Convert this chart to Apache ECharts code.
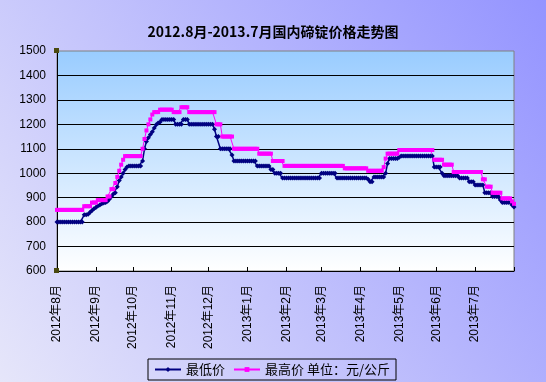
<!DOCTYPE html>
<html><head><meta charset="utf-8">
<script src="https://cdn.jsdelivr.net/npm/echarts@6/dist/echarts.min.js"></script>
<style>html,body{margin:0;padding:0;}#c{width:546px;height:382px;}</style>
</head><body><div id="c"></div>
<script>
const titleText = '2012.8月-2013.7月国内碲锭价格走势图';
const monthLabels = ['2012年8月','2012年9月','2012年10月','2012年11月','2012年12月','2013年1月','2013年2月','2013年3月','2013年4月','2013年5月','2013年6月','2013年7月'];
const monthCounts = [20,19,20,19,20,20,18,20,20,19,20,21];
const seriesNames = ['最低价','最高价'];
const unitNote = '单位：元/公斤';
const yMin = 600, yMax = 1500, yStep = 100;

const lowPrices = [
800,800,800,800,800,800,800,800,800,800,
800,800,800,800,830,830,832,840,848,855,
860,866,870,875,878,880,885,895,905,915,
920,945,970,985,1000,1015,1025,1030,1030,1030,
1030,1030,1030,1030,1050,1100,1130,1145,1158,1170,
1185,1198,1205,1210,1220,1220,1220,1220,1220,1220,
1220,1200,1200,1200,1200,1220,1220,1220,1200,1200,
1200,1200,1200,1200,1200,1200,1200,1200,1200,1200,
1200,1180,1150,1150,1100,1100,1100,1100,1100,1100,
1075,1050,1050,1050,1050,1050,1050,1050,1050,1050,
1050,1050,1050,1030,1030,1030,1030,1030,1030,1030,
1015,1015,1000,1000,1000,1000,980,980,980,980,
980,980,980,980,980,980,980,980,980,980,
980,980,980,980,980,980,1000,1000,1000,1000,
1000,1000,1000,1000,980,980,980,980,980,980,
980,980,980,980,980,980,980,980,980,980,
975,965,965,985,985,985,985,985,985,1000,
1040,1060,1060,1060,1060,1060,1065,1070,1070,1070,
1070,1070,1070,1070,1070,1070,1070,1070,1070,1070,
1070,1070,1070,1070,1025,1025,1025,1025,1000,990,
990,990,990,990,990,990,990,980,980,980,
980,980,965,965,965,952,952,952,952,952,
920,920,920,920,905,905,905,905,890,880,
880,880,880,880,870,862
];
const highPrices = [
850,850,850,850,850,850,850,850,850,850,
850,850,850,850,865,865,865,865,880,880,
880,890,890,890,890,890,905,905,935,935,
960,985,1010,1035,1055,1070,1070,1070,1070,1070,
1070,1070,1070,1070,1100,1140,1175,1200,1220,1240,
1250,1250,1250,1260,1260,1260,1260,1260,1260,1260,
1250,1250,1250,1250,1270,1270,1270,1270,1250,1250,
1250,1250,1250,1250,1250,1250,1250,1250,1250,1250,
1250,1250,1200,1200,1200,1150,1150,1150,1150,1150,
1150,1100,1100,1100,1100,1100,1100,1100,1100,1100,
1100,1100,1100,1100,1080,1080,1080,1080,1080,1080,
1080,1050,1050,1050,1050,1050,1050,1030,1030,1030,
1030,1030,1030,1030,1030,1030,1030,1030,1030,1030,
1030,1030,1030,1030,1030,1030,1030,1030,1030,1030,
1030,1030,1030,1030,1030,1030,1030,1030,1020,1020,
1020,1020,1020,1020,1020,1020,1020,1020,1020,1020,
1010,1010,1010,1010,1010,1010,1010,1010,1025,1060,
1080,1080,1080,1080,1080,1080,1095,1095,1095,1095,
1095,1095,1095,1095,1095,1095,1095,1095,1095,1095,
1095,1095,1095,1095,1055,1055,1055,1055,1055,1035,
1035,1035,1035,1035,1005,1005,1005,1005,1005,1005,
1005,1005,1005,1005,1005,1005,1005,1005,1005,975,
975,945,945,945,920,920,920,920,920,897,
897,897,897,897,885,875
];

const categories = [];
const monthStart = new Set();
monthLabels.forEach((m, k) => {
  for (let j = 0; j < monthCounts[k]; j++) {
    if (j === 0) monthStart.add(categories.length);
    categories.push(m + '#' + j);
  }
});
const lastIdx = categories.length - 1;

const cjk = '"Noto Sans CJK SC"';
const latin = '"Liberation Sans", "Noto Sans CJK SC"';

const chart = echarts.init(document.getElementById('c'), null, {renderer: 'canvas'});
chart.setOption({
  animation: false,
  backgroundColor: new echarts.graphic.LinearGradient(1, 0, 0, 1, [
    {offset: 0, color: '#9494FF'},
    {offset: 1, color: '#E6E6FA'}
  ]),
  title: {
    text: titleText, left: 'center', top: 20,
    textStyle: {fontSize: 14, fontWeight: 'bold', color: '#000', fontFamily: cjk}
  },
  grid: {
    left: 57, right: 32, top: 51, bottom: 111,
    show: true, borderColor: '#808080', borderWidth: 1,
    backgroundColor: new echarts.graphic.LinearGradient(0, 0, 0, 1, [
      {offset: 0, color: '#99CCFF'},
      {offset: 1, color: '#FFFFFF'}
    ])
  },
  legend: {
    data: seriesNames, left: 148, top: 359,
    padding: [4, 6], borderColor: '#000', borderWidth: 1,
    itemGap: 8, itemWidth: 26, itemHeight: 6,
    textStyle: {fontSize: 13, color: '#000', fontFamily: cjk},
    formatter: name => name === seriesNames[1] ? name + ' ' + unitNote : name
  },
  xAxis: {
    type: 'category', data: categories, boundaryGap: false,
    axisLine: {lineStyle: {color: '#000', width: 1}},
    axisTick: {inside: true, length: 4, lineStyle: {color: '#000'},
      interval: (i) => monthStart.has(i) || i === lastIdx},
    axisLabel: {
      rotate: 90, margin: 14, fontSize: 12, color: '#000', fontFamily: latin,
      interval: (i) => monthStart.has(i),
      formatter: v => v.split('#')[0]
    },
    splitLine: {show: false}
  },
  yAxis: {
    type: 'value', min: yMin, max: yMax, interval: yStep,
    axisLine: {show: true, lineStyle: {color: '#000', width: 1}},
    axisTick: {show: false},
    axisLabel: {fontSize: 12, color: '#000', margin: 11, fontFamily: latin, formatter: v => String(v)},
    splitLine: {show: true, showMaxLine: false, lineStyle: {color: '#000', width: 1}}
  },
  series: [
    {
      name: seriesNames[0], type: 'line', data: lowPrices,
      symbol: 'diamond', symbolSize: 5, showAllSymbol: true,
      lineStyle: {color: '#000080', width: 1.5},
      itemStyle: {color: '#000080'}
    },
    {
      name: seriesNames[1], type: 'line', data: highPrices,
      symbol: 'rect', symbolSize: 4, showAllSymbol: true,
      lineStyle: {color: '#FF00FF', width: 1},
      itemStyle: {color: '#FF00FF'}
    }
  ]
});
const pTop = chart.convertToPixel({gridIndex: 0}, [0, yMax]);
const pBot = chart.convertToPixel({gridIndex: 0}, [0, yMin]);
chart.setOption({
  graphic: [pTop, pBot].map(p => ({
    type: 'rect', shape: {x: p[0] - 3, y: p[1] - 3, width: 5, height: 5},
    style: {fill: '#4A4A10'}, z: 100
  }))
});
</script>
</body></html>
